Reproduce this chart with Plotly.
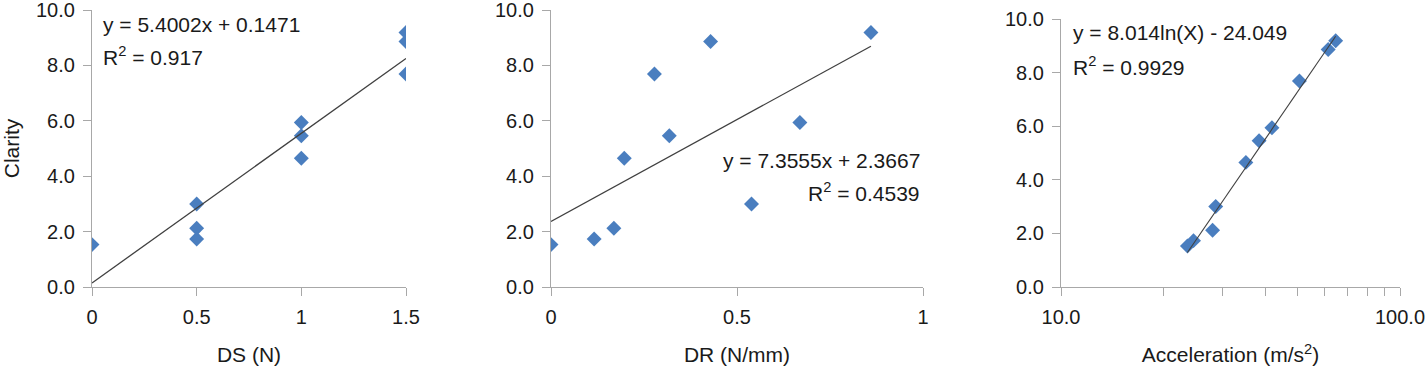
import numpy as np
import plotly.graph_objects as go

# ---- data ----
clarity = [1.53, 1.73, 2.12, 3.00, 4.65, 5.46, 5.94, 7.69, 8.86, 9.19]
ds = [0.0, 0.5, 0.5, 0.5, 1.0, 1.0, 1.0, 1.5, 1.5, 1.5]
dr = [0.0, 0.116, 0.169, 0.539, 0.197, 0.318, 0.669, 0.278, 0.429, 0.860]
accel = [23.6, 24.6, 28.0, 28.6, 35.1, 38.4, 41.9, 50.5, 61.4, 64.6]

ds_fit = (5.4002, 0.1471)
dr_fit = (7.3555, 2.3667)
acc_fit = (8.014, -24.049)

y_ticks = [0, 2, 4, 6, 8, 10]
ds_ticks = [0, 0.5, 1, 1.5]
dr_ticks = [0, 0.5, 1]
acc_ticks = [10, 20, 30, 40, 50, 60, 70, 80, 90, 100]
acc_ticktext = ["10.0", "", "", "", "", "", "", "", "", "100.0"]

# ---- style ----
W, H = 1428, 370
FONT = "Liberation Sans, Arial, sans-serif"
TXT = "#1a1a1a"
AXC = "#a8a8a8"
MC = "#4a7ebf"
LC = "#404040"
FS = 21
TFS = 20

fig = go.Figure()

marker = dict(symbol="diamond", size=11.5, color=MC)

# panel 1
fig.add_trace(go.Scatter(x=ds, y=clarity, mode="markers", marker=marker,
                         xaxis="x", yaxis="y", showlegend=False))
xl = np.array([0.0, 1.5])
fig.add_trace(go.Scatter(x=xl, y=ds_fit[0] * xl + ds_fit[1], mode="lines",
                         line=dict(color=LC, width=1.3), xaxis="x", yaxis="y", showlegend=False))

# panel 2
fig.add_trace(go.Scatter(x=dr, y=clarity, mode="markers", marker=marker,
                         xaxis="x2", yaxis="y2", showlegend=False))
xl2 = np.array([min(dr), max(dr)])
fig.add_trace(go.Scatter(x=xl2, y=dr_fit[0] * xl2 + dr_fit[1], mode="lines",
                         line=dict(color=LC, width=1.3), xaxis="x2", yaxis="y2", showlegend=False))

# panel 3
fig.add_trace(go.Scatter(x=accel, y=clarity, mode="markers", marker=marker,
                         xaxis="x3", yaxis="y3", showlegend=False))
xl3 = np.geomspace(min(accel), max(accel), 50)
fig.add_trace(go.Scatter(x=xl3, y=acc_fit[0] * np.log(xl3) + acc_fit[1], mode="lines",
                         line=dict(color=LC, width=1.1), xaxis="x3", yaxis="y3", showlegend=False))


def px_x(p):
    return p / W


def px_y(p):
    return 1 - p / H


common = dict(showline=True, linecolor=AXC, linewidth=1.3, ticks="outside",
              tickcolor=AXC, ticklen=8, tickwidth=1.3, showgrid=False, zeroline=False,
              automargin=False, ticklabeloverflow="allow",
              tickfont=dict(family=FONT, size=TFS, color=TXT), ticklabelstandoff=4)

yaxis_common = dict(common, range=[0, 10], tickvals=y_ticks, tickformat=".1f")

fig.update_layout(
    width=W, height=H,
    margin=dict(l=0, r=0, t=0, b=0),
    paper_bgcolor="white", plot_bgcolor="white",
    font=dict(family=FONT, size=FS, color=TXT),
    xaxis=dict(common, domain=[px_x(92), px_x(406)], range=[0, 1.5], tickvals=ds_ticks,
               ticktext=["0", "0.5", "1", "1.5"], anchor="y",
               title=dict(text="DS (N)", standoff=20, font=dict(size=FS))),
    yaxis=dict(yaxis_common, domain=[px_y(287), px_y(10)], anchor="x",
               title=dict(text="Clarity", standoff=12, font=dict(size=FS))),
    xaxis2=dict(common, domain=[px_x(551), px_x(923)], range=[0, 1], tickvals=dr_ticks,
                ticktext=["0", "0.5", "1"], anchor="y2",
                title=dict(text="DR (N/mm)", standoff=20, font=dict(size=FS))),
    yaxis2=dict(yaxis_common, domain=[px_y(287), px_y(10)], anchor="x2"),
    xaxis3=dict(common, domain=[px_x(1061), px_x(1400)], type="log", range=[1, 2],
                tickvals=acc_ticks, ticktext=acc_ticktext, anchor="y3",
                title=dict(text="Acceleration (m/s<sup>2</sup>)", standoff=20, font=dict(size=FS))),
    yaxis3=dict(yaxis_common, domain=[px_y(287), px_y(19)], anchor="x3"),
)

ann = [
    dict(text="y = 5.4002x + 0.1471", x=px_x(101), y=px_y(25), xanchor="left"),
    dict(text="R<sup>2</sup> = 0.917", x=px_x(101), y=px_y(56), xanchor="left"),
    dict(text="y = 7.3555x + 2.3667", x=px_x(922), y=px_y(160), xanchor="right"),
    dict(text="R<sup>2</sup> = 0.4539", x=px_x(922), y=px_y(192), xanchor="right"),
    dict(text="y = 8.014ln(X) - 24.049", x=px_x(1071), y=px_y(32), xanchor="left"),
    dict(text="R<sup>2</sup> = 0.9929", x=px_x(1071), y=px_y(66), xanchor="left"),
]
for a in ann:
    fig.add_annotation(xref="paper", yref="paper", yanchor="middle", showarrow=False,
                       font=dict(family=FONT, size=FS, color=TXT), **a)

fig.write_html("out.html", config={"displayModeBar": False},
               post_script="document.body.style.margin='0px';document.body.style.overflow='hidden';")
